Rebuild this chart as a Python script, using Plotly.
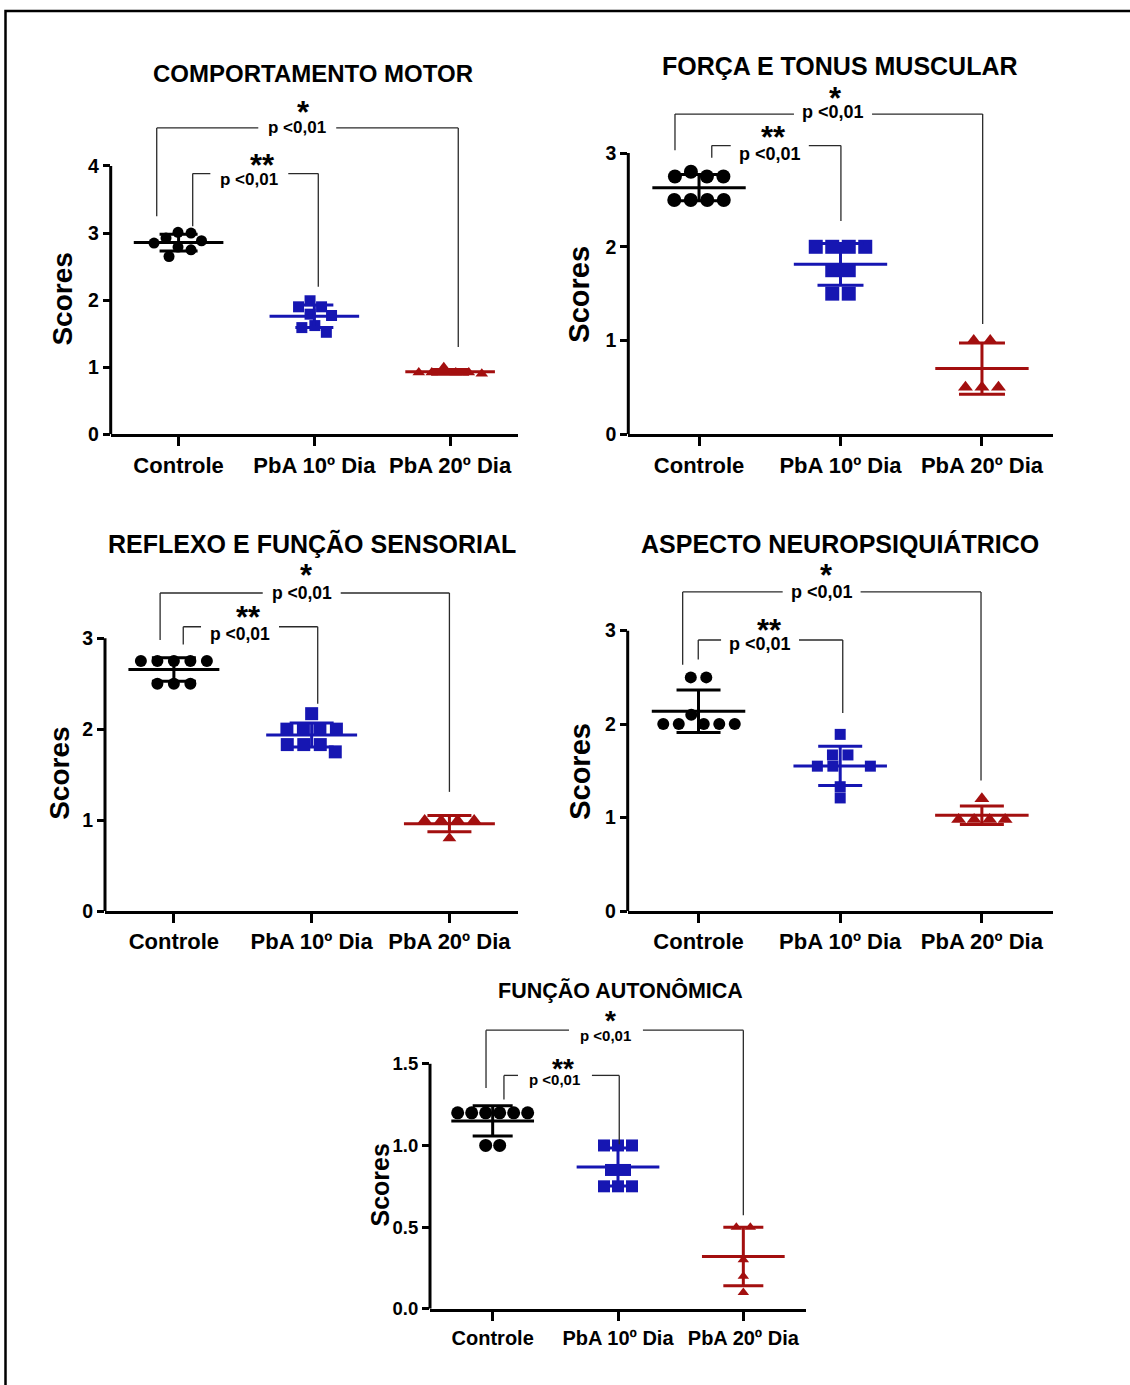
import numpy as np
import plotly.graph_objects as go

W, H = 1130, 1385
FONT = "Liberation Sans, Arial, sans-serif"

# ---------------- data ----------------
CATEGORIES = ["Controle", "PbA 10º Dia", "PbA 20º Dia"]
TITLES = ["COMPORTAMENTO MOTOR", "FORÇA E TONUS MUSCULAR", "REFLEXO E FUNÇÃO SENSORIAL",
          "ASPECTO NEUROPSIQUIÁTRICO", "FUNÇÃO AUTONÔMICA"]
Y_LABEL = "Scores"
P_TEXT = "p <0,01"

motor_controle = [3.0, 3.01, 2.925, 2.885, 2.85, 2.79, 2.75, 2.65]
motor_pba10 = [1.99, 1.90, 1.90, 1.79, 1.77, 1.62, 1.59, 1.52]
motor_pba20 = [1.0, 0.92, 0.92, 0.92, 0.92, 0.90]

forca_controle = [2.8, 2.75, 2.75, 2.75, 2.5, 2.5, 2.5, 2.5]
forca_pba10 = [2.0, 2.0, 2.0, 2.0, 1.75, 1.75, 1.5, 1.5]
forca_pba20 = [1.0, 1.0, 0.5, 0.5, 0.5]

reflexo_controle = [2.75, 2.75, 2.75, 2.75, 2.75, 2.5, 2.5, 2.5]
reflexo_pba10 = [2.17, 2.0, 2.0, 2.0, 2.0, 1.83, 1.83, 1.83, 1.75]
reflexo_pba20 = [1.0, 1.0, 1.0, 1.0, 0.8]

neuro_controle = [2.5, 2.5, 2.1, 2.0, 2.0, 2.0, 2.0, 2.0]
neuro_pba10 = [1.89, 1.67, 1.67, 1.55, 1.55, 1.55, 1.33, 1.21]
neuro_pba20 = [1.2, 0.98, 0.98, 0.98, 0.98]

auto_controle = [1.2, 1.2, 1.2, 1.2, 1.2, 1.2, 1.0, 1.0]
auto_pba10 = [1.0, 1.0, 1.0, 0.85, 0.85, 0.75, 0.75, 0.75]
auto_pba20 = [0.5, 0.5, 0.3, 0.2, 0.1]

Y_TICKS_4 = [0, 1, 2, 3, 4]
Y_TICKS_3 = [0, 1, 2, 3]
Y_TICKS_15 = [0, 0.5, 1.0, 1.5]

DATA = [
    [motor_controle, motor_pba10, motor_pba20],
    [forca_controle, forca_pba10, forca_pba20],
    [reflexo_controle, reflexo_pba10, reflexo_pba20],
    [neuro_controle, neuro_pba10, neuro_pba20],
    [auto_controle, auto_pba10, auto_pba20],
]
YTICKS = [Y_TICKS_4, Y_TICKS_3, Y_TICKS_3, Y_TICKS_3, Y_TICKS_15]

# ---------------- styles / layout geometry ----------------
COLORS = ["#000000", "#1616b2", "#a30f0f"]
SYMBOLS = ["circle", "square", "triangle-up"]

GEOM = [
    dict(left=110.7, right=518, y0=437.7, ytop_px=167.3, yr=5.8, fmt="", sizes=[11, 11, 11], sep=13, capw=19,
         xfont=22, yfont=19.5, title=(313.3, 74, 24), scores=(63, 302, 28), pfont=17, sfont=31,
         outer=(-0.161, 2.06, 4.567, 3.25, 1.30), inner=(0.104, 1.029, 3.886, 3.10, 2.20),
         p_out=(0.874, 4.567), p_in=(0.521, 3.80), star1=(0.919, 4.90), star2=(0.62, 4.11), gap=0.287),
    dict(left=628.3, right=1052.7, y0=437.7, ytop_px=154.3, yr=4.35, fmt="", sizes=[14, 14, 13], sep=16.5, capw=23,
         xfont=22, yfont=19.5, title=(840, 66.7, 25), scores=(579, 297, 29), pfont=18, sfont=31,
         outer=(-0.17, 2.005, 3.416, 3.03, 1.175), inner=(0.09, 1.003, 3.08, 2.95, 2.276),
         p_out=(0.947, 3.434), p_in=(0.50, 2.99), star1=(0.968, 3.66), star2=(0.523, 3.24), gap=0.276),
    dict(left=105, right=518.3, y0=918.3, ytop_px=643.3, yr=4.35, fmt="", sizes=[12, 13, 12], sep=16.5, capw=22,
         xfont=22, yfont=19.5, title=(311.7, 548.3, 25), scores=(60, 780, 28), pfont=17.5, sfont=31,
         outer=(-0.10, 2.0, 3.497, 2.98, 1.31), inner=(0.068, 1.044, 3.126, 2.93, 2.28),
         p_out=(0.928, 3.50), p_in=(0.48, 3.05), star1=(0.964, 3.76), star2=(0.54, 3.30), gap=0.283),
    dict(left=627.7, right=1052.7, y0=918.3, ytop_px=635.7, yr=4.35, fmt="", sizes=[12, 11, 13], sep=15.5, capw=22,
         xfont=22, yfont=19.5, title=(840, 548.3, 25), scores=(580, 778, 29), pfont=18, sfont=31,
         outer=(-0.112, 1.994, 3.414, 2.636, 1.397), inner=(-0.002, 1.018, 2.90, 2.69, 2.12),
         p_out=(0.869, 3.414), p_in=(0.434, 2.86), star1=(0.905, 3.66), star2=(0.50, 3.07), gap=0.275),
    dict(left=430, right=806, y0=1319.3, ytop_px=1072.3, yr=2.175, fmt=".1f", sizes=[13, 12, 10], sep=13.8, capw=20,
         xfont=20, yfont=18.5, title=(620, 998.3, 21.5), scores=(380, 1195, 25), pfont=15, sfont=28,
         outer=(-0.053, 2.0, 1.706, 1.352, 0.573), inner=(0.09, 1.01, 1.429, 1.281, 1.008),
         p_out=(0.904, 1.676), p_in=(0.497, 1.403), star1=(0.944, 1.80), star2=(0.559, 1.51), gap=0.295),
]

MEAN_HALF = 0.33
BRACKET_COLOR = "#2a2a2a"
BRACKET_W = 1.3


def swarm_offsets(values, unit_y, sep):
    """Beeswarm-like horizontal offsets (px) derived from the values."""
    n = len(values)
    ypx = [v * unit_y for v in values]
    order = sorted(range(n), key=lambda i: -values[i])
    placed = []
    offs = [0.0] * n
    for i in order:
        y = ypx[i]
        k = 0
        best = None
        while best is None:
            cands = [0.0] if k == 0 else [k * 0.5, -k * 0.5]
            for c in cands:
                if all((c - o) ** 2 + (y - yy) ** 2 >= sep * sep - 1e-6 for o, yy in placed):
                    best = c
                    break
            k += 1
        offs[i] = best
        placed.append((best, y))
    # centre each row of (near) equal values
    srt = sorted(range(n), key=lambda i: values[i])
    rows, cur = [], [srt[0]]
    for a, b in zip(srt[:-1], srt[1:]):
        if abs(ypx[b] - ypx[a]) < 0.65 * sep:
            cur.append(b)
        else:
            rows.append(cur)
            cur = [b]
    rows.append(cur)
    for r in rows:
        m = np.mean([offs[i] for i in r])
        for i in r:
            offs[i] -= m
    return offs


fig = go.Figure()
shapes, annotations = [], []
layout_axes = {}

for k, (groups, g, yt) in enumerate(zip(DATA, GEOM, YTICKS)):
    sfx = "" if k == 0 else str(k + 1)
    xref, yref = "x" + sfx, "y" + sfx
    unit_x = (g["right"] - g["left"]) / 3.0
    unit_y = (g["y0"] - g["ytop_px"]) / yt[-1]
    top_px = g["y0"] - g["yr"] * unit_y

    layout_axes["xaxis" + sfx] = dict(
        domain=[g["left"] / W, g["right"] / W], range=[-0.5, 2.5], anchor=yref,
        tickvals=[0, 1, 2], ticktext=CATEGORIES, ticks="outside", ticklen=9, tickwidth=3,
        tickcolor="black", showline=True, linewidth=3, linecolor="black", showgrid=False,
        zeroline=False, tickfont=dict(family=FONT, size=g["xfont"], color="black", weight="bold"))
    layout_axes["yaxis" + sfx] = dict(
        domain=[1 - g["y0"] / H, 1 - top_px / H], range=[0, g["yr"]], anchor=xref,
        tickvals=yt, tickformat=g["fmt"], ticks="outside", ticklen=7, tickwidth=3,
        tickcolor="black", showline=False, showgrid=False, zeroline=False,
        tickfont=dict(family=FONT, size=g["yfont"], color="black", weight="bold"))

    # y axis line up to the top tick
    shapes.append(dict(type="line", xref=xref + " domain", yref=yref, x0=0, x1=0, y0=0, y1=yt[-1],
                       line=dict(color="black", width=3)))

    for gi, vals in enumerate(groups):
        offs = swarm_offsets(vals, unit_y, g["sep"])
        xs = [gi + o / unit_x for o in offs]
        fig.add_trace(go.Scatter(
            x=xs, y=vals, mode="markers", xaxis=xref, yaxis=yref, showlegend=False,
            cliponaxis=False, hoverinfo="skip",
            marker=dict(symbol=SYMBOLS[gi], size=g["sizes"][gi], color=COLORS[gi], line=dict(width=0))))
        m = float(np.mean(vals))
        sd = float(np.std(vals, ddof=1))
        fig.add_trace(go.Scatter(
            x=[gi - MEAN_HALF, gi + MEAN_HALF], y=[m, m], mode="lines", xaxis=xref, yaxis=yref,
            showlegend=False, hoverinfo="skip", line=dict(color=COLORS[gi], width=3)))
        fig.add_trace(go.Scatter(
            x=[gi], y=[m], mode="markers", xaxis=xref, yaxis=yref, showlegend=False, hoverinfo="skip",
            marker=dict(size=1, color="rgba(0,0,0,0)"),
            error_y=dict(type="data", array=[sd], visible=True, color=COLORS[gi], thickness=3,
                         width=g["capw"])))

    # significance brackets
    for br, pt in ((g["outer"], g["p_out"]), (g["inner"], g["p_in"])):
        xl, xr, yl, ylb, yrb = br
        px = pt[0]
        ln = dict(color=BRACKET_COLOR, width=BRACKET_W)
        shapes.append(dict(type="line", xref=xref, yref=yref, x0=xl, x1=px - g["gap"], y0=yl, y1=yl, line=ln))
        shapes.append(dict(type="line", xref=xref, yref=yref, x0=px + g["gap"], x1=xr, y0=yl, y1=yl, line=ln))
        shapes.append(dict(type="line", xref=xref, yref=yref, x0=xl, x1=xl, y0=ylb, y1=yl, line=ln))
        shapes.append(dict(type="line", xref=xref, yref=yref, x0=xr, x1=xr, y0=yrb, y1=yl, line=ln))
        annotations.append(dict(text=P_TEXT, x=pt[0], y=pt[1], xref=xref, yref=yref, showarrow=False,
                                font=dict(family=FONT, size=g["pfont"], color="black", weight="bold")))
    for st, txt in ((g["star1"], "*"), (g["star2"], "**")):
        annotations.append(dict(text=txt, x=st[0], y=st[1], xref=xref, yref=yref, showarrow=False,
                                yshift=-0.22 * g["sfont"],
                                font=dict(family=FONT, size=g["sfont"], color="black", weight="bold")))

    tx, ty, tf = g["title"]
    annotations.append(dict(text=TITLES[k], x=tx / W, y=1 - ty / H, xref="paper", yref="paper",
                            showarrow=False, xanchor="center", yanchor="middle",
                            font=dict(family=FONT, size=tf, color="black", weight="bold")))
    sx, sy, sf = g["scores"]
    annotations.append(dict(text=Y_LABEL, x=sx / W, y=1 - sy / H, xref="paper", yref="paper",
                            showarrow=False, textangle=-90, xanchor="center", yanchor="middle",
                            font=dict(family=FONT, size=sf, color="black", weight="bold")))

# outer frame
shapes.append(dict(type="rect", xref="paper", yref="paper", x0=5.5 / W, x1=1.02, y0=-0.02,
                   y1=1 - 11.2 / H, line=dict(color="black", width=2.5), fillcolor="rgba(0,0,0,0)"))

fig.update_layout(
    width=W, height=H, autosize=False, margin=dict(l=0, r=0, t=0, b=0, pad=0),
    paper_bgcolor="white", plot_bgcolor="white", showlegend=False,
    shapes=shapes, annotations=annotations, **layout_axes)

fig.write_html("out.html", config={"displayModeBar": False})
